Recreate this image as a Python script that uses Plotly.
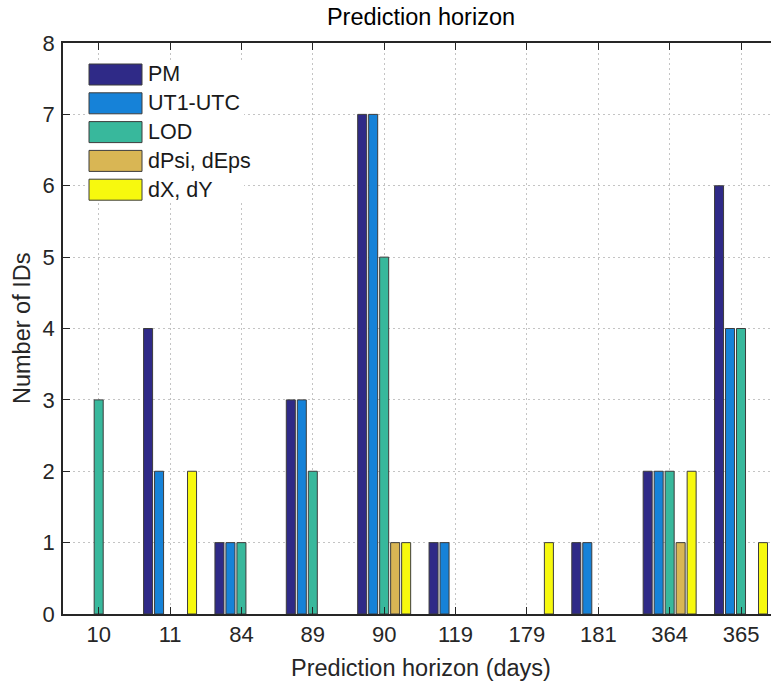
import plotly.graph_objects as go

categories = ["10", "11", "84", "89", "90", "119", "179", "181", "364", "365"]
series_names = ["PM", "UT1-UTC", "LOD", "dPsi, dEps", "dX, dY"]
pm = [0, 4, 1, 3, 7, 1, 0, 1, 2, 6]
ut1 = [0, 2, 1, 3, 7, 1, 0, 1, 2, 4]
lod = [3, 0, 1, 2, 5, 0, 0, 0, 2, 4]
dpsi = [0, 0, 0, 0, 1, 0, 0, 0, 1, 0]
dxdy = [0, 2, 0, 0, 1, 0, 1, 0, 2, 1]
series_values = [pm, ut1, lod, dpsi, dxdy]
colors = ["#2f2a87", "#1682d8", "#38b89c", "#d9b654", "#f7f90e"]
edge = "#3c3c3c"

W, H = 771, 689
L, R, T, B = 63, 0, 43, 75
pw = W - L - R
ph = H - T - B

def xp(px):
    return (px - L) / pw

def yp(py):
    return (H - B - py) / ph

font_family = "Liberation Sans, Arial, Helvetica, sans-serif"
tick_size = 22
label_size = 23.5
legend_size = 21.5

fig = go.Figure()
for name, vals, col in zip(series_names, series_values, colors):
    fig.add_trace(go.Bar(
        x=categories, y=[v if v else None for v in vals], name=name,
        marker=dict(color=col, line=dict(color=edge, width=1)),
        showlegend=False,
    ))

fig.update_layout(
    width=W, height=H,
    margin=dict(l=L, r=R, t=T, b=B, autoexpand=False),
    paper_bgcolor="white", plot_bgcolor="white",
    barmode="group", bargap=0.23, bargroupgap=0.18,
    font=dict(family=font_family, size=tick_size, color="#262626"),
    title=dict(text="Prediction horizon", x=xp(421), xref="paper", xanchor="center",
               y=1 - 17 / H, yanchor="middle",
               font=dict(size=label_size, color="#000000", family=font_family)),
)

grid_style = dict(showgrid=True, gridcolor="#c4c4c4", griddash="2px,3px", gridwidth=1)

fig.update_xaxes(
    type="category", categoryorder="array", categoryarray=categories,
    range=[-0.5, 9.42], automargin=False,
    showline=True, linecolor="#262626", linewidth=1.5, mirror="ticks",
    ticks="inside", ticklen=7, tickwidth=1.2, tickcolor="#262626",
    tickfont=dict(size=tick_size, color="#262626"),
    ticklabelstandoff=0,
    **grid_style,
)
fig.update_yaxes(
    range=[0, 8], dtick=1, tick0=0, automargin=False,
    showline=True, linecolor="#262626", linewidth=1.5, mirror=False,
    ticks="inside", ticklen=7, tickwidth=1.2, tickcolor="#262626",
    zeroline=False,
    tickfont=dict(size=tick_size, color="#262626"),
    ticklabelstandoff=2,
    **grid_style,
)

annotations = [
    dict(xref="paper", yref="paper", x=xp(421), y=yp(668), xanchor="center", yanchor="middle",
         showarrow=False, text="Prediction horizon (days)",
         font=dict(size=label_size, color="#262626", family=font_family)),
    dict(xref="paper", yref="paper", x=xp(22), y=yp(328), xanchor="center", yanchor="middle",
         showarrow=False, text="Number of IDs", textangle=-90,
         font=dict(size=label_size, color="#262626", family=font_family)),
]

# manual legend (MATLAB-style wide swatches)
shapes = [dict(type="rect", xref="paper", yref="paper", layer="above",
               x0=xp(86), x1=xp(244), y0=yp(62), y1=yp(202),
               fillcolor="white", line=dict(width=0))]
row0, step, sh = 74.5, 28.8, 21
for i, (name, col) in enumerate(zip(series_names, colors)):
    cy = row0 + i * step
    shapes.append(dict(type="rect", xref="paper", yref="paper", layer="above",
                       x0=xp(89), x1=xp(142), y0=yp(cy + sh / 2), y1=yp(cy - sh / 2),
                       fillcolor=col, line=dict(color=edge, width=1)))
    annotations.append(dict(xref="paper", yref="paper", x=xp(146), y=yp(cy),
                            xanchor="left", yanchor="middle", showarrow=False,
                            text=name, font=dict(size=legend_size, color="#1a1a1a", family=font_family)))
fig.update_layout(shapes=shapes, annotations=annotations)

fig.write_html(
    "out.html",
    config={"displayModeBar": False},
    post_script="document.body.style.margin='0';document.body.style.overflow='hidden';",
)
